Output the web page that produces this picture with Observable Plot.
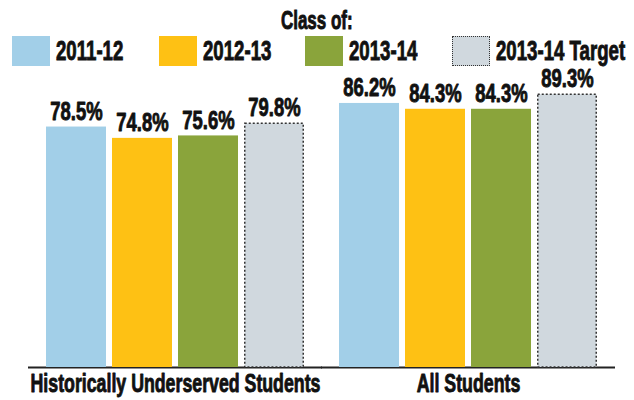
<!DOCTYPE html>
<html>
<head>
<meta charset="utf-8">
<script src="https://cdn.jsdelivr.net/npm/d3@7"></script>
<script src="https://cdn.jsdelivr.net/npm/@observablehq/plot@0.6"></script>
<style>
  html, body { margin: 0; padding: 0; background: #fff; }
  body { width: 634px; height: 400px; overflow: hidden; font-family: "Liberation Sans", Arial, sans-serif; font-weight: bold; color: #111; }
  #legend { position: relative; width: 634px; height: 70px; }
  #legend .title { position: absolute; left: 0; width: 634px; top: 7px; text-align: center; font-size: 25px; line-height: 26px; }
  #legend .title span { display: inline-block; transform: scaleX(0.68); transform-origin: center center; -webkit-text-stroke: 0.9px #111; }
  #legend .sw { position: absolute; top: 36px; width: 38px; height: 30px; box-sizing: border-box; }
  #legend .lab { position: absolute; top: 38px; font-size: 27px; line-height: 26px; white-space: nowrap; transform: scaleX(0.69); transform-origin: left center; -webkit-text-stroke: 0.9px #111; }
  #chart svg { display: block; overflow: visible; }
</style>
</head>
<body>
<div id="legend"></div>
<div id="chart"></div>
<script>
const groups = ["Historically Underserved Students", "All Students"];
const series = ["2011-12", "2012-13", "2013-14", "2013-14 Target"];
const colors = ["#a2cfe8", "#fec114", "#8aa43b", "#d0d8de"];
const underservedValues = [78.5, 74.8, 75.6, 79.8];
const allStudentsValues = [86.2, 84.3, 84.3, 89.3];
const legendTitle = "Class of:";

const data = [];
series.forEach((s, i) => data.push({group: groups[0], series: s, value: underservedValues[i]}));
series.forEach((s, i) => data.push({group: groups[1], series: s, value: allStudentsValues[i]}));

// Legend (HTML, above the SVG)
const legend = document.getElementById("legend");
const t = document.createElement("div");
t.className = "title";
const ts = document.createElement("span");
ts.textContent = legendTitle; t.appendChild(ts);
legend.appendChild(t);
const swX = [12, 159, 305, 452];
series.forEach((s, i) => {
  const sw = document.createElement("div");
  sw.className = "sw";
  sw.style.left = swX[i] + "px";
  sw.style.background = colors[i];
  if (i === 3) sw.style.border = "1.5px dotted #333";
  legend.appendChild(sw);
  const lab = document.createElement("div");
  lab.className = "lab";
  lab.style.left = (swX[i] + 44) + "px";
  lab.textContent = s;
  legend.appendChild(lab);
});

const isTarget = d => d.series === "2013-14 Target";

const chart = Plot.plot({
  width: 634,
  height: 330,
  marginLeft: 46,
  marginRight: 37,
  marginTop: 6,
  marginBottom: 33,
  style: {fontFamily: '"Liberation Sans", Arial, sans-serif', fontWeight: "bold"},
  fx: {domain: groups, paddingInner: 35 / 293, paddingOuter: 0, label: null},
  x: {domain: series, paddingInner: 6 / 66, paddingOuter: 0, axis: null},
  y: {domain: [0, 95], axis: null},
  color: {domain: series, range: colors},
  marks: [
    Plot.axisFx({anchor: "bottom", tickSize: 0, tickPadding: 7, fontSize: 25, label: null, fill: "#111"}),
    Plot.ruleY([0], {stroke: "#222", strokeWidth: 2, insetLeft: -18, insetRight: -18}),
    Plot.barY(data.filter(d => !isTarget(d)), {fx: "group", x: "series", y: "value", fill: "series"}),
    Plot.barY(data.filter(isTarget), {fx: "group", x: "series", y: "value", fill: "series", stroke: "#333", strokeWidth: 1.5, strokeDasharray: "2,2", insetTop: 0.75, insetLeft: 0.75, insetRight: 0.75}),
    Plot.text(data, {fx: "group", x: "series", y: "value", text: d => d.value.toFixed(1) + "%", lineAnchor: "bottom", dy: -7, fontSize: 26, fill: "#111"})
  ]
});
document.getElementById("chart").appendChild(chart);
// condense SVG texts horizontally around their centre (reference uses a condensed face)
const K = 0.71;
const NS = "http://www.w3.org/2000/svg";
Array.from(chart.querySelectorAll("text")).forEach(el => {
  const g = document.createElementNS(NS, "g");
  el.parentNode.insertBefore(g, el);
  g.appendChild(el);
  const bb = g.getBBox();
  const cx = bb.x + bb.width / 2;
  g.setAttribute("transform", `translate(${cx},0) scale(${K},1) translate(${-cx},0)`);
  el.setAttribute("stroke", "#111");
  el.setAttribute("stroke-width", "0.9");
  el.setAttribute("stroke-linejoin", "round");
});
</script>
</body>
</html>
